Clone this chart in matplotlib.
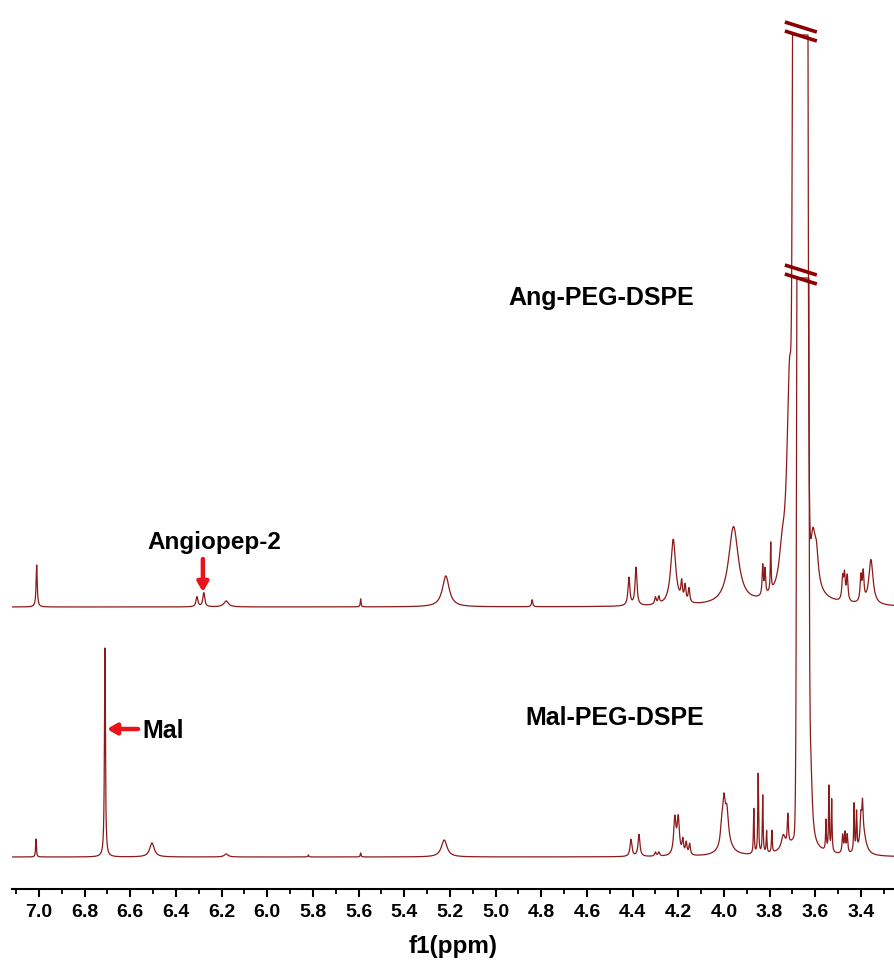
import numpy as np
import matplotlib
matplotlib.use("Agg")
import matplotlib.pyplot as plt

# ---------------- data ----------------
# Ang-PEG-DSPE (upper trace): Lorentzian lines (ppm, height, half-width)
ang_ppm = [7.010, 6.308, 6.278, 6.180, 5.591, 5.218, 4.840, 4.416, 4.385, 4.300, 4.285,
           4.222, 4.185, 4.170, 4.153, 3.958, 3.830, 3.820, 3.795, 3.745, 3.712,
           3.665, 3.610, 3.595, 3.480, 3.472, 3.460, 3.400, 3.390, 3.356]
ang_hgt = [42, 10, 14, 6, 8, 31, 7, 28, 38, 7, 7,
           66, 18, 16, 14, 78, 30, 25, 48, 30, 215,
           45, 45, 30, 22, 25, 25, 25, 28, 45]
ang_wid = [0.003, 0.005, 0.005, 0.012, 0.002, 0.018, 0.003, 0.005, 0.005, 0.004, 0.004,
           0.013, 0.004, 0.004, 0.004, 0.026, 0.003, 0.003, 0.002, 0.015, 0.014,
           0.05, 0.012, 0.01, 0.004, 0.004, 0.004, 0.004, 0.004, 0.011]
ang_main = (3.6655, 1.0e5, 0.01043)   # saturated PEG peak (ppm, height, sigma)

# Mal-PEG-DSPE (lower trace)
mal_ppm = [7.013, 6.711, 6.505, 6.180, 5.820, 5.591, 5.225, 4.407, 4.372, 4.300, 4.285,
           4.215, 4.200, 4.180, 4.165, 4.150, 4.010, 4.000, 3.987, 3.990,
           3.869, 3.850, 3.830, 3.813, 3.790, 3.740, 3.720, 3.660, 3.620,
           3.553, 3.540, 3.528, 3.480, 3.470, 3.460, 3.430, 3.419, 3.400, 3.393, 3.390]
mal_hgt = [18, 209, 14, 3, 2, 4, 17, 17, 22, 4, 4,
           36, 36, 14, 12, 11, 16, 40, 30, 12,
           45, 80, 58, 22, 22, 14, 30, 25, 80,
           30, 65, 52, 18, 20, 18, 48, 38, 25, 30, 22]
mal_wid = [0.002, 0.0025, 0.012, 0.01, 0.002, 0.002, 0.015, 0.005, 0.005, 0.004, 0.004,
           0.006, 0.006, 0.004, 0.004, 0.004, 0.006, 0.007, 0.008, 0.03,
           0.002, 0.002, 0.002, 0.002, 0.002, 0.01, 0.003, 0.05, 0.008,
           0.002, 0.002, 0.002, 0.003, 0.003, 0.003, 0.002, 0.002, 0.004, 0.003, 0.015]
mal_main = (3.6545, 1.0e5, 0.00826)

ang_offset = 250     # vertical offset of the upper trace
ang_cap = 572        # truncation level (relative to its baseline)
mal_cap = 579

tick_vals = [7.0, 6.8, 6.6, 6.4, 6.2, 6.0, 5.8, 5.6, 5.4, 5.2, 5.0, 4.8,
             4.6, 4.4, 4.2, 4.0, 3.8, 3.6, 3.4]

# ---------------- build spectra ----------------
x = np.linspace(7.118, 3.255, 30000)

def spectrum(ppm, hgt, wid, main):
    y = np.zeros_like(x)
    for c, h, w in zip(ppm, hgt, wid):
        y += h / (1.0 + ((x - c) / w) ** 2)
    c, h, s = main
    y += h * np.exp(-((x - c) ** 2) / (2 * s ** 2))
    return y

y_ang = np.minimum(spectrum(ang_ppm, ang_hgt, ang_wid, ang_main), ang_cap) + ang_offset
y_mal = np.minimum(spectrum(mal_ppm, mal_hgt, mal_wid, mal_main), mal_cap)

# ---------------- figure ----------------
W, H = 894, 972
fig = plt.figure(figsize=(W / 100, H / 100), dpi=100)
ax = fig.add_axes([12 / W, 83 / H, 1 - 12 / W, 1 - 83 / H])

line_col = "#8B1A1A"
ax.plot(x, y_ang, color=line_col, lw=0.9)
ax.plot(x, y_mal, color=line_col, lw=0.9)

ax.set_xlim(7.118, 3.255)
ax.set_ylim(-32, 857)

# break marks
brk_col = "#8B0000"
for y0 in (ang_offset + ang_cap, mal_cap):
    for dy in (+8, -1):
        ax.plot([3.733, 3.593], [y0 + dy + 5, y0 + dy - 5], color=brk_col,
                lw=2.6, solid_capstyle="butt", clip_on=False)

# axes styling
for s in ("left", "right", "top"):
    ax.spines[s].set_visible(False)
ax.spines["bottom"].set_linewidth(1.5)
ax.set_yticks([])
ax.set_xticks(tick_vals)
ax.set_xticklabels([f"{v:.1f}" for v in tick_vals])
ax.set_xticks(np.round(np.arange(3.3, 7.15, 0.1), 2), minor=True)
ax.tick_params(axis="x", which="major", direction="out", length=6, width=1.5,
               pad=5, labelsize=14)
ax.tick_params(axis="x", which="minor", direction="out", length=3.5, width=1.3)
fam = ["Liberation Sans", "DejaVu Sans"]
for lab in ax.get_xticklabels():
    lab.set_fontweight("bold")
    lab.set_family(fam)
ax.set_xlabel("f1(ppm)", fontsize=17.5, fontweight="bold", family=fam, labelpad=10)

# labels
ax.text(4.539, 559, "Ang-PEG-DSPE", fontsize=18, fontweight="bold", family=fam,
        ha="center", va="center")
ax.text(4.478, 139, "Mal-PEG-DSPE", fontsize=18, fontweight="bold", family=fam,
        ha="center", va="center")
ax.text(6.230, 314, "Angiopep-2", fontsize=17.5, fontweight="bold", family=fam,
        ha="center", va="center")
ax.text(6.549, 126, "Mal", fontsize=18, fontweight="bold", family=fam,
        ha="left", va="center")

arrow_col = "#E8141B"
ax.annotate("", xy=(6.282, 265), xytext=(6.282, 298),
            arrowprops=dict(arrowstyle="-|>,head_length=0.55,head_width=0.32",
                            color=arrow_col, lw=3.2, shrinkA=0, shrinkB=0))
ax.annotate("", xy=(6.702, 128), xytext=(6.566, 128),
            arrowprops=dict(arrowstyle="-|>,head_length=0.55,head_width=0.32",
                            color=arrow_col, lw=3.2, shrinkA=0, shrinkB=0))

fig.savefig("out.png", dpi=100)
